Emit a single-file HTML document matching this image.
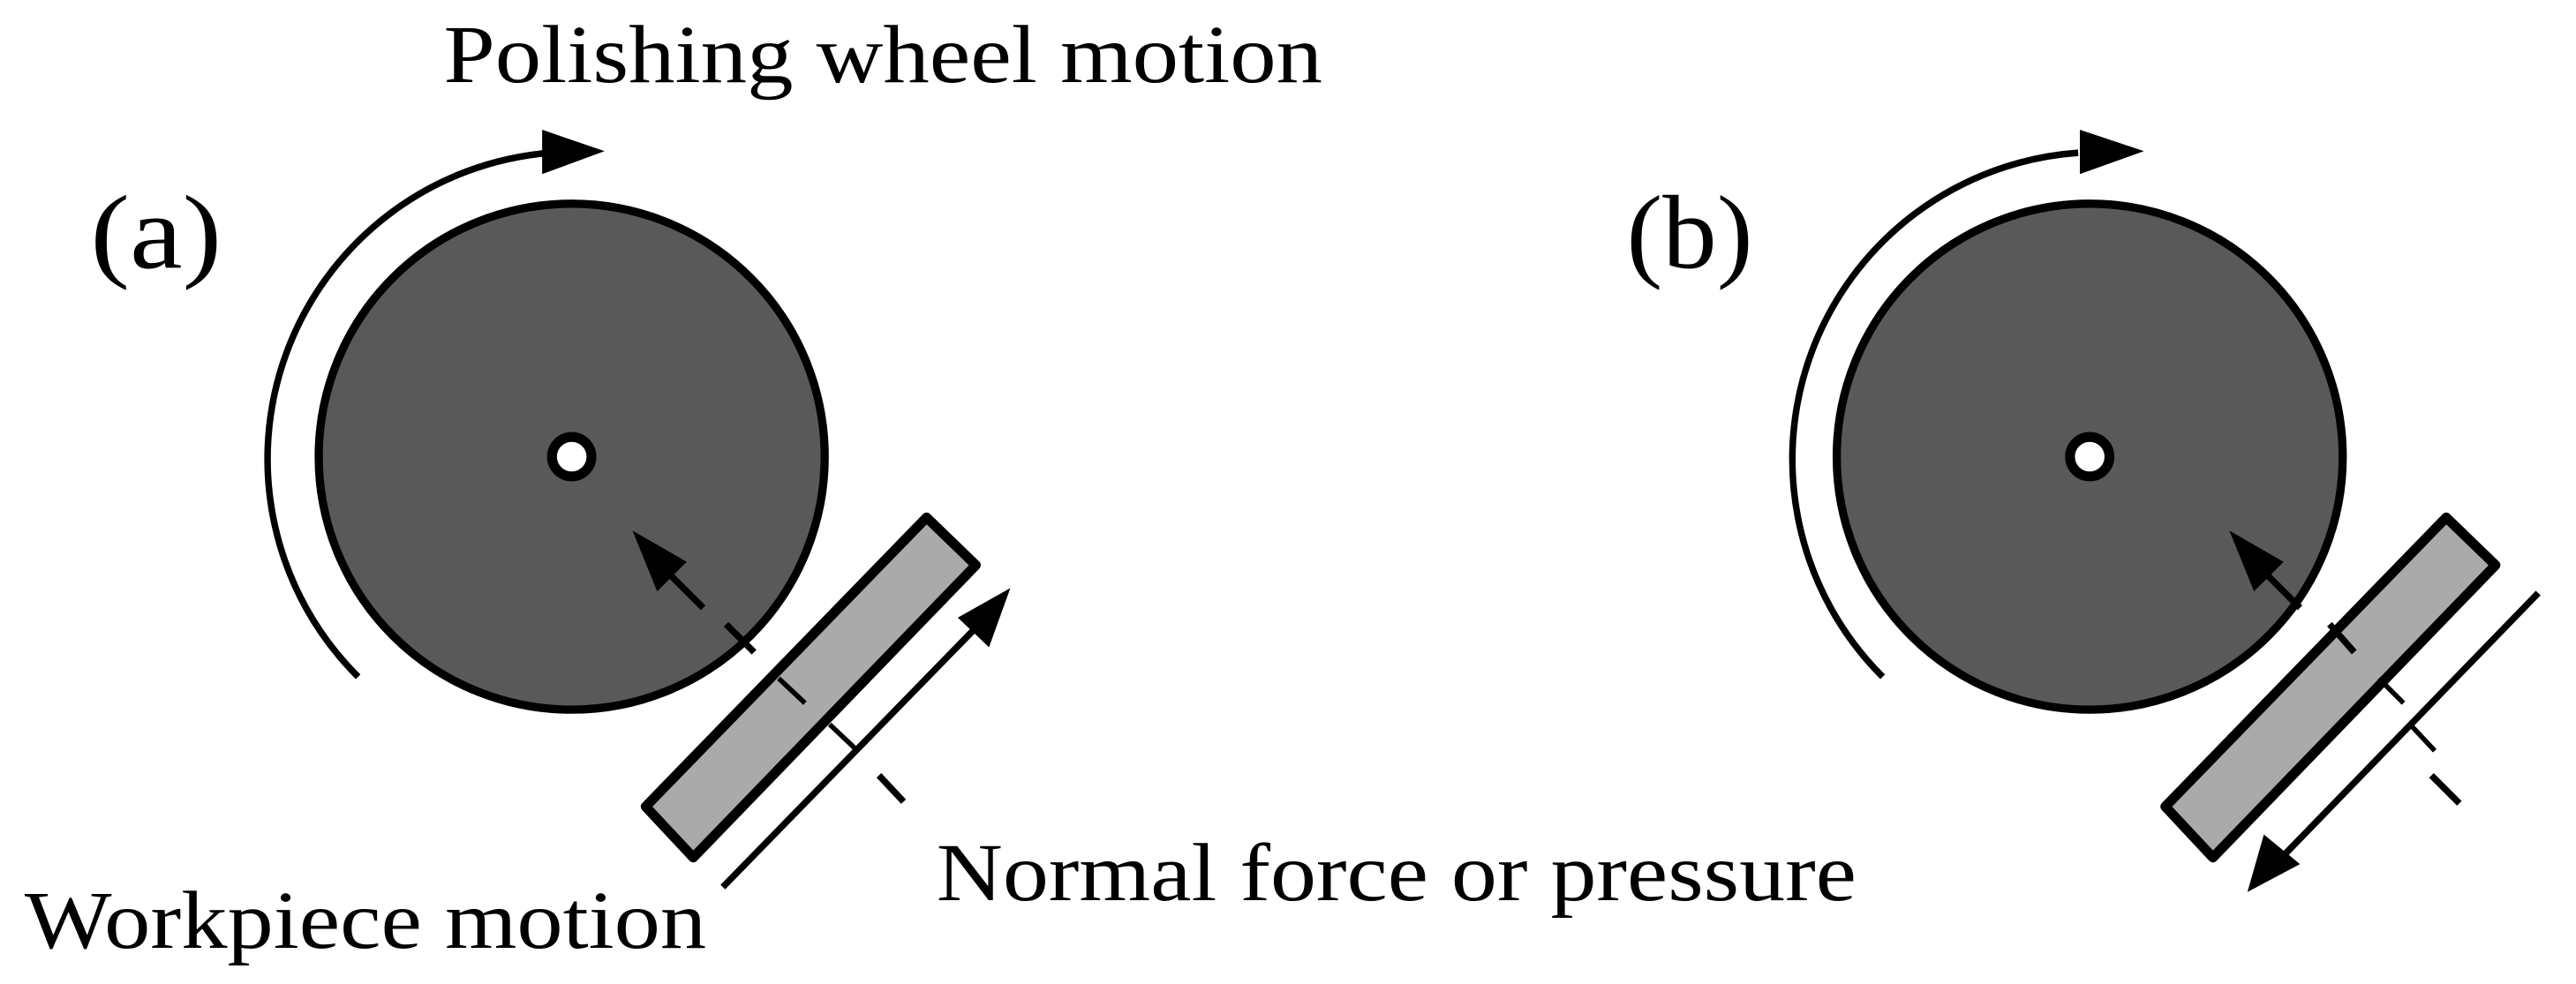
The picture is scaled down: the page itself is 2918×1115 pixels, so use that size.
<!DOCTYPE html>
<html><head><meta charset="utf-8"><style>
html,body{margin:0;padding:0;background:#fff}
svg{display:block}
text{font-family:"Liberation Serif",serif;fill:#000}
</style></head><body>
<svg width="2918" height="1115" viewBox="0 0 1568 599" preserveAspectRatio="none" xmlns="http://www.w3.org/2000/svg">
<text x="270" y="50" font-size="50" textLength="535" lengthAdjust="spacingAndGlyphs">Polishing wheel motion</text>
<text x="55" y="163" font-size="64" textLength="80" lengthAdjust="spacingAndGlyphs">(a)</text>
<text x="990" y="163" font-size="64" textLength="77" lengthAdjust="spacingAndGlyphs">(b)</text>
<text x="570" y="548" font-size="50" textLength="560" lengthAdjust="spacingAndGlyphs">Normal force or pressure</text>
<text x="15" y="577" font-size="50" textLength="415" lengthAdjust="spacingAndGlyphs">Workpiece motion</text>

<!-- panel a -->
<g>
<path d="M218 412 A187 187 0 0 1 335 93" fill="none" stroke="#000" stroke-width="4"/>
<polygon points="368,92 330,79 330,106" fill="#000"/>
<circle cx="348" cy="278" r="154" fill="#595959" stroke="#000" stroke-width="5"/>
<circle cx="348" cy="278" r="12" fill="#fff" stroke="#000" stroke-width="6"/>
<polygon points="564,315 594,344 422,522 393,491" fill="#aaaaaa" stroke="#000" stroke-width="6" stroke-linejoin="round"/>
<line x1="398" y1="340" x2="428" y2="370" stroke="#000" stroke-width="4"/>
<polygon points="385,323 418,342 400,360" fill="#000"/>
<line x1="442" y1="380" x2="459" y2="397" stroke="#000" stroke-width="4"/>
<line x1="474" y1="413" x2="490" y2="428" stroke="#000" stroke-width="3"/>
<line x1="505" y1="441" x2="522" y2="457" stroke="#000" stroke-width="3"/>
<line x1="535" y1="472" x2="550" y2="488" stroke="#000" stroke-width="4"/>
<line x1="440" y1="540" x2="598" y2="378" stroke="#000" stroke-width="4"/>
<polygon points="615,358 583,376 602,394" fill="#000"/>
</g>

<!-- panel b -->
<g>
<path d="M1146 412 A187 187 0 0 1 1265 93" fill="none" stroke="#000" stroke-width="4"/>
<polygon points="1305,92 1266,79 1266,106" fill="#000"/>
<circle cx="1272" cy="278" r="154" fill="#595959" stroke="#000" stroke-width="5"/>
<circle cx="1272" cy="278" r="12" fill="#fff" stroke="#000" stroke-width="6"/>
<polygon points="1489,315 1519,344 1347,522 1318,491" fill="#aaaaaa" stroke="#000" stroke-width="6" stroke-linejoin="round"/>
<line x1="1370" y1="340" x2="1400" y2="370" stroke="#000" stroke-width="4"/>
<polygon points="1357,323 1390,342 1372,360" fill="#000"/>
<line x1="1418" y1="380" x2="1433" y2="397" stroke="#000" stroke-width="4"/>
<line x1="1448" y1="413" x2="1463" y2="428" stroke="#000" stroke-width="3"/>
<line x1="1467" y1="441" x2="1482" y2="457" stroke="#000" stroke-width="3"/>
<line x1="1480" y1="472" x2="1497" y2="489" stroke="#000" stroke-width="4"/>
<line x1="1545" y1="361" x2="1385" y2="526" stroke="#000" stroke-width="4"/>
<polygon points="1368,543 1378,508 1400,526" fill="#000"/>
</g>
</svg>
</body></html>
